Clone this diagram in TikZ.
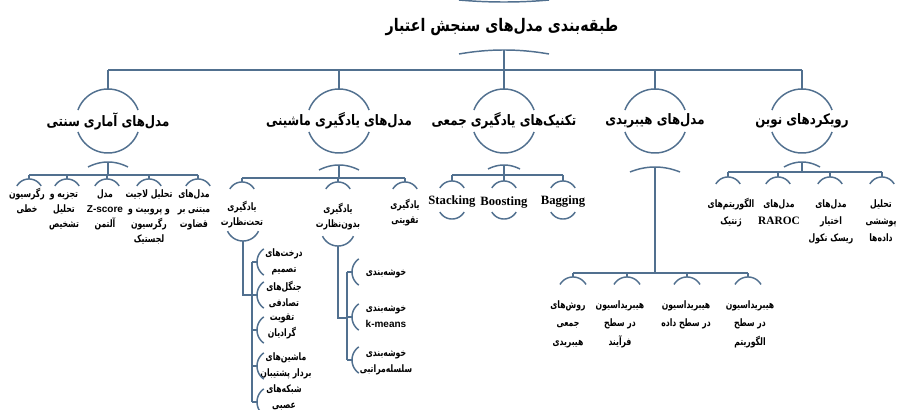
\documentclass[tikz,border=0pt]{standalone}
\usepackage{fontspec}
\TeXXeTstate=1
\newfontfamily\fa[Script=Arabic,FakeStretch=0.82,BoldFont={DejaVu Sans Bold}]{DejaVu Sans}
\newfontfamily\fb[Script=Arabic,FakeStretch=0.75,BoldFont={DejaVu Sans Bold}]{DejaVu Sans}
\newfontfamily\lat{Liberation Serif}
\newfontfamily\lsans{Liberation Sans}
\newcommand\RL[1]{\beginR\strut#1\endR}
\newcommand\ArcUp[5]{\draw[ln] plot[domain=#4:#5,samples=30,variable=\t] ({#1+#3*cos(\t)},{#2-#3*sin(\t)});}
\newcommand\ArcDn[5]{\draw[ln] plot[domain=#4:#5,samples=30,variable=\t] ({#1+#3*cos(\t)},{#2+#3*sin(\t)});}
\newcommand\Flat[4]{\draw[ln] plot[domain=-1:1,samples=25,variable=\t] ({#1+#3*\t},{#2+#4*\t*\t});}
\newcommand\Brk[3]{\draw[ln] plot[domain=125:235,samples=20,variable=\t] ({#1+#3+#3*cos(\t)},{#2-#3*sin(\t)});}
\definecolor{lc}{HTML}{51708F}
\tikzset{
  ln/.style={draw=lc, line width=1.1pt},
  ttl/.style={font=\fa\bfseries\fontsize{13}{15}\selectfont, inner sep=0pt},
  cat/.style={font=\fa\bfseries\fontsize{10.8}{13}\selectfont, inner sep=0pt},
  leaf/.style={font=\fb\bfseries\fontsize{7.7}{11.25}\selectfont, align=center, inner sep=0pt, anchor=north},
  leafh/.style={leaf, font=\fb\bfseries\fontsize{7.7}{13.9}\selectfont},
  leafn/.style={leaf, font=\fb\bfseries\fontsize{7.7}{12.75}\selectfont},
  sub/.style={font=\fb\bfseries\fontsize{7.7}{12}\selectfont, align=center, inner sep=0pt},
  ens/.style={font=\lat\bfseries\fontsize{9.5}{11}\selectfont, inner sep=0pt},
}
\begin{document}
\begin{tikzpicture}[x=0.75pt,y=-0.75pt]
\useasboundingbox[fill=white] (0,0) rectangle (901,410);
% title
\node[ttl] (title) at (502,27) {\beginR طبقه‌بندی مدل‌های سنجش اعتبار\endR};
\Flat{504}{2}{45}{-2}
\Flat{504}{50}{45}{4}
\coordinate (tb) at (504,50);
\coordinate (bL) at (108,70);
\coordinate (bR) at (802,70);
\draw[ln] (bL) -- (bR);
\draw[ln] (tb) -- (tb |- bL);
% categories
\node[cat] (c1) at (108,121) {\beginR مدل‌های آماری سنتی\endR};
\node[cat] (c2) at (339,121) {\beginR مدل‌های یادگیری ماشینی\endR};
\node[cat] (c3) at (504,121) {\beginR تکنیک‌های یادگیری جمعی\endR};
\node[cat] (c4) at (655,121) {\beginR مدل‌های هیبریدی\endR};
\node[cat] (c5) at (802,121) {\beginR رویکردهای نوین\endR};
\foreach \c/\x in {c1/108,c2/339,c3/504,c4/655,c5/802}{
  \ArcUp{\x}{121}{32}{20}{160}
  \ArcDn{\x}{121}{32}{20}{160}
  \draw[ln] (\c |- bL) -- (\x,89);
}
% ---------- traditional
\Flat{108}{162}{20}{5}
\coordinate (t0) at (108,162);
\coordinate (tL) at (29,175);
\coordinate (tR) at (198,175);
\draw[ln] (t0) -- (t0 |- tL);
\draw[ln] (tL) -- (tR);
\node[leaf] (t1) at (27,187) {\RL{رگرسیون}\\\RL{خطی}};
\node[leaf] (t2) at (64,187) {\RL{تجزیه و}\\\RL{تحلیل}\\\RL{تشخیص}};
\node[leaf] (t3) at (105,187) {\RL{مدل}\\\strut{\lsans\bfseries\fontsize{7.5}{11}\selectfont Z-score}\\\RL{آلتمن}};
\node[leaf] (t4) at (149,187) {\RL{تحلیل لاجیت}\\\RL{و پروبیت و}\\\RL{رگرسیون}\\\RL{لجستیک}};
\node[leaf] (t5) at (194,187) {\RL{مدل‌های}\\\RL{مبتنی بر}\\\RL{قضاوت}};
\foreach \x in {29,67,107,149,198}{
  \draw[ln] (\x,175) -- (\x,179);
  \ArcUp{\x}{193}{14}{30}{150}
}
% ---------- machine learning
\Flat{339}{165}{20}{5}
\coordinate (m0) at (339,165);
\coordinate (mL) at (242,178);
\coordinate (mR) at (405,178);
\draw[ln] (m0) -- (m0 |- mL);
\draw[ln] (mL) -- (mR);
\node[leaf] (m1) at (242,200) {\RL{یادگیری}\\\RL{تحت‌نظارت}};
\node[leaf] (m2) at (338,202) {\RL{یادگیری}\\\RL{بدون‌نظارت}};
\node[leaf] (m3) at (405,198) {\RL{یادگیری}\\\RL{تقویتی}};
\foreach \n/\x in {m1/242,m2/338,m3/405}{
  \draw[ln] (\n |- mL) -- (\x,182);
  \ArcUp{\x}{196}{14}{30}{150}
}
% supervised
\ArcDn{243}{224}{17}{25}{155}
\coordinate (s0) at (243,241);
\coordinate (sj) at (243,295);
\coordinate (sT) at (252,262);
\coordinate (sB) at (252,402);
\draw[ln] (s0) -- (sj) -- (sj -| sT);
\draw[ln] (sT) -- (sB);
\node[sub] (s1) at (284,261) {\RL{درخت‌های}\\\RL{تصمیم}};
\node[sub] (s2) at (284,295) {\RL{جنگل‌های}\\\RL{تصادفی}};
\node[sub] (s3) at (282,325) {\RL{تقویت}\\\RL{گرادیان}};
\node[sub] (s4) at (286,365) {\RL{ماشین‌های}\\\RL{بردار پشتیبان}};
\node[sub] (s5) at (284,397) {\RL{شبکه‌های}\\\RL{عصبی}};
\foreach \y in {262,295,330,366,402}{
  \draw[ln] (252,\y) -- (257,\y);
  \Brk{257}{\y}{16}
}
% unsupervised
\ArcDn{338}{229}{17}{25}{155}
\coordinate (u0) at (338,246);
\coordinate (uj) at (338,318);
\coordinate (uT) at (347,272);
\coordinate (uB) at (347,360);
\draw[ln] (u0) -- (uj) -- (uj -| uT);
\draw[ln] (uT) -- (uB);
\node[sub] (u1) at (386,272) {\RL{خوشه‌بندی}};
\node[sub] (u2) at (386,316) {\RL{خوشه‌بندی}\\\strut{\lsans\bfseries\fontsize{7.5}{11}\selectfont k-means}};
\node[sub] (u3) at (386,361) {\RL{خوشه‌بندی}\\\RL{سلسله‌مراتبی}};
\foreach \y in {272,317,360}{
  \draw[ln] (347,\y) -- (352,\y);
  \Brk{352}{\y}{16}
}
% ---------- ensemble
\Flat{504}{165}{16}{4}
\coordinate (e0) at (504,165);
\coordinate (eL) at (452,175);
\coordinate (eR) at (563,175);
\draw[ln] (e0) -- (e0 |- eL);
\draw[ln] (eL) -- (eR);
\node[ens] (e1) at (452,202) {Stacking};
\node[ens] (e2) at (504,203) {Boosting};
\node[ens] (e3) at (563,202) {Bagging};
\foreach \n/\x in {e1/452,e2/504,e3/563}{
  \draw[ln] (\n |- eL) -- (\x,181);
  \ArcUp{\x}{195}{14}{30}{150}
  \ArcDn{\x}{205}{14}{30}{150}
}
% ---------- hybrid
\Flat{655}{167}{25}{5}
\coordinate (h0) at (655,167);
\coordinate (hL) at (573,273);
\coordinate (hR) at (748,273);
\draw[ln] (h0) -- (h0 |- hL);
\draw[ln] (hL) -- (hR);
\node[leafh] (h1) at (568,295) {\RL{روش‌های}\\\RL{جمعی}\\\RL{هیبریدی}};
\node[leafh] (h2) at (620,295) {\RL{هیبریداسیون}\\\RL{در سطح}\\\RL{فرآیند}};
\node[leafh] (h3) at (686,295) {\RL{هیبریداسیون}\\\RL{در سطح داده}};
\node[leafh] (h4) at (750,295) {\RL{هیبریداسیون}\\\RL{در سطح}\\\RL{الگوریتم}};
\foreach \x in {573,627,687,748}{
  \draw[ln] (\x,273) -- (\x,277);
  \ArcUp{\x}{292}{15}{30}{150}
}
% ---------- modern
\Flat{802}{162}{18}{5}
\coordinate (n0) at (802,162);
\coordinate (nL) at (728,172);
\coordinate (nR) at (882,172);
\draw[ln] (n0) -- (n0 |- nL);
\draw[ln] (nL) -- (nR);
\node[leafn] (n1) at (731,195) {\RL{الگوریتم‌های}\\\RL{ژنتیک}};
\node[leafn] (n2) at (779,195) {\RL{مدل‌های}\\\strut{\lat\bfseries\fontsize{8.5}{11}\selectfont RAROC}};
\node[leafn] (n3) at (831,195) {\RL{مدل‌های}\\\RL{اختیار}\\\RL{ریسک نکول}};
\node[leafn] (n4) at (881,195) {\RL{تحلیل}\\\RL{پوششی}\\\RL{داده‌ها}};
\foreach \x in {728,778,830,882}{
  \draw[ln] (\x,172) -- (\x,177);
  \ArcUp{\x}{191}{14}{30}{150}
}
\end{tikzpicture}
\end{document}
